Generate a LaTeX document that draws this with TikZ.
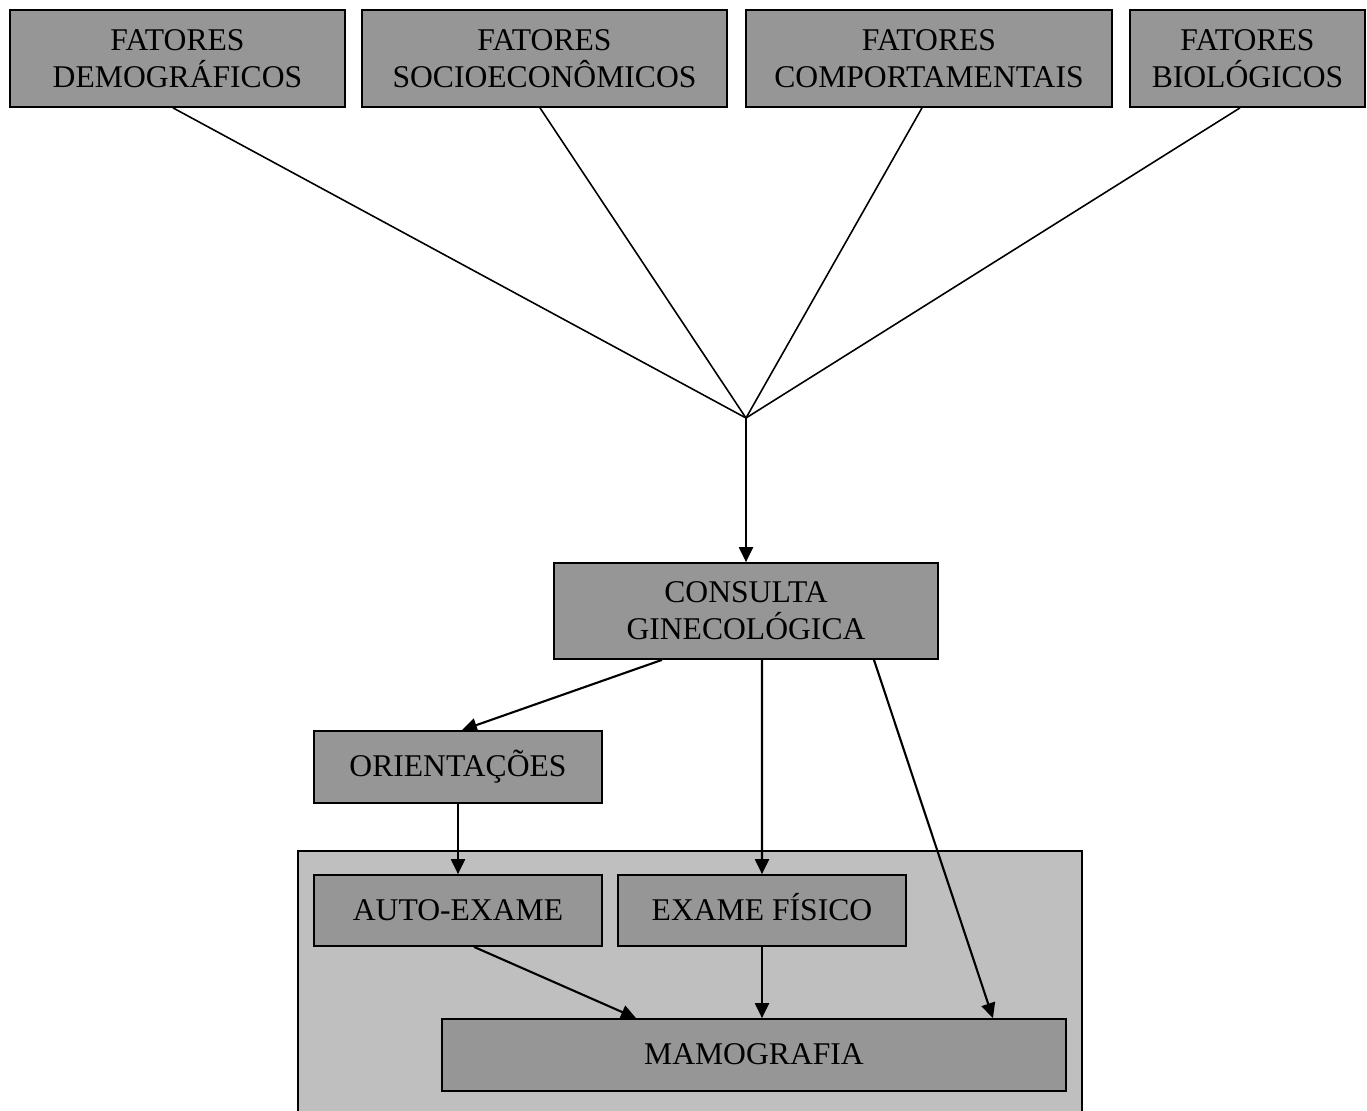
\documentclass[tikz,border=0pt]{standalone}
\usepackage{fontspec}
\setmainfont{Liberation Serif}
\usetikzlibrary{arrows.meta, positioning}

\begin{document}
\begin{tikzpicture}[
    x=0.02cm, y=-0.02cm,
    caixa/.style={rectangle, draw=black, line width=1pt, fill=black!41,
        inner sep=0pt, align=center,
        font=\fontsize{18}{21}\selectfont},
    unica/.style={caixa, text height=13pt, text depth=2pt},
    fator/.style={caixa, minimum height=1.94cm},
    linha/.style={line width=0.9pt},
    seta/.style={line width=1.2pt,
        -{Triangle[length=0.3cm, width=0.28cm]}}
    ]
\useasboundingbox (0,0) rectangle (1367,1110);

% outer frame
\draw[line width=1pt, fill=black!25] (298,851) rectangle (1082,1125);

%Upper part
\node[fator, minimum width=6.7cm] (demo) at (177.5,58.5) {FATORES\\DEMOGRÁFICOS};
\node[fator, minimum width=7.3cm] (socio) at (544.5,58.5) {FATORES\\SOCIOECONÔMICOS};
\node[fator, minimum width=7.32cm] (comp) at (929,58.5) {FATORES\\COMPORTAMENTAIS};
\node[fator, minimum width=4.7cm] (bio) at (1247.5,58.5) {FATORES\\BIOLÓGICOS};

\coordinate (junta) at (746,418);
\draw[linha] ([xshift=-0.09cm]demo.south) -- (junta);
\draw[linha] ([xshift=-0.09cm]socio.south) -- (junta);
\draw[linha] ([xshift=-0.14cm]comp.south) -- (junta);
\draw[linha] ([xshift=-0.15cm]bio.south) -- (junta);

%Middle part
\node[caixa, minimum width=7.68cm, minimum height=1.92cm] (consulta) at (746,611)
    {CONSULTA\\GINECOLÓGICA};
\draw[seta] (junta) -- (consulta.north);

\node[unica, minimum width=5.76cm, minimum height=1.44cm] (orient) at (458,767)
    {ORIENTAÇÕES};

%Lower part
\node[unica, minimum width=5.76cm, minimum height=1.42cm] (auto) at (458,910.5)
    {AUTO-EXAME};
\node[unica, minimum width=5.76cm, minimum height=1.42cm] (fisico) at (762,910.5)
    {EXAME FÍSICO};
\node[unica, minimum width=12.48cm, minimum height=1.44cm] (mamo) at (754,1055)
    {MAMOGRAFIA};

\draw[seta] ([xshift=-1.68cm]consulta.south) -- ([xshift=0.08cm]orient.north);
\draw[seta] ([xshift=0.32cm]consulta.south) -- (fisico.north);
\draw[seta] ([xshift=2.56cm]consulta.south) -- ([xshift=4.78cm]mamo.north);
\draw[seta] (orient.south) -- (auto.north);
\draw[seta] ([xshift=0.32cm]auto.south) -- ([xshift=-2.36cm]mamo.north);
\draw[seta] (fisico.south) -- (fisico.south |- mamo.north);
\end{tikzpicture}
\end{document}
